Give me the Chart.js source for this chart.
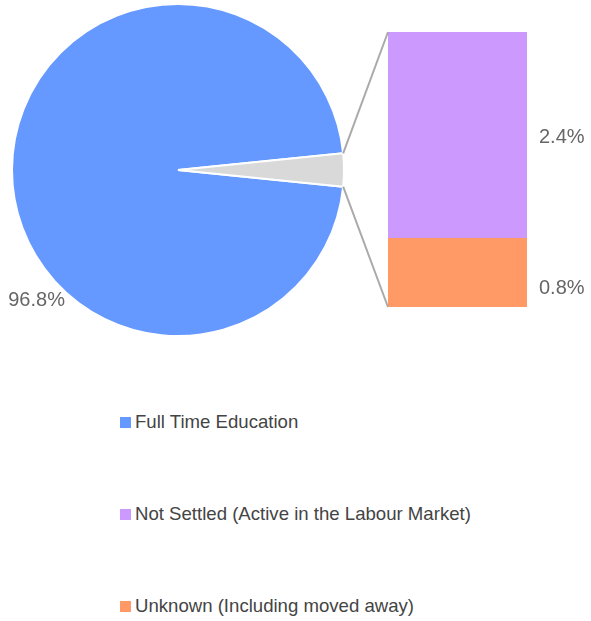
<!DOCTYPE html>
<html>
<head>
<meta charset="utf-8">
<script src="https://cdn.jsdelivr.net/npm/chart.js@4.4.1/dist/chart.umd.min.js"></script>
<style>
  html, body { margin: 0; padding: 0; background: #fff; }
  body { width: 591px; height: 621px; position: relative; overflow: hidden; font-family: "Liberation Sans", Arial, sans-serif; }
  #pieCanvas { position: absolute; left: 0; top: 0; }
  #barCanvas { position: absolute; left: 330px; top: 0; }
  #legend { position: absolute; left: 120px; top: 411px; }
  .lg-item { height: 92px; display: flex; align-items: flex-start; font-size: 18.6px; color: #444; line-height: 22px; }
  .lg-box { width: 11px; height: 11px; margin: 6px 4px 0 0; }
</style>
</head>
<body>
<canvas id="pieCanvas" width="356" height="340"></canvas>
<canvas id="barCanvas" width="261" height="340"></canvas>
<div id="legend"></div>
<script>
// Pie-of-bar: main pie plus breakdown of the small slice

const legendLabels = ['Full Time Education', 'Not Settled (Active in the Labour Market)', 'Unknown (Including moved away)'];
const legendColors = ['#6699ff', '#cc99ff', '#ff9966'];

// main pie: big slice + combined "other"
const pieLabels = ['Full Time Education', 'Other'];
const pieValues = [96.8, 3.2];
const pieColors = ['#6699ff', '#d9d9d9'];

// breakdown of "other" (bottom to top in stack)
const barLabels = ['Unknown (Including moved away)', 'Not Settled (Active in the Labour Market)'];
const barValues = [0.8, 2.4];
const barColors = ['#ff9966', '#cc99ff'];

const textFont = '20px "Liberation Sans", Arial, sans-serif';
const textColor = '#666';

// --- Legend ---
document.getElementById('legend').innerHTML = legendLabels.map((l, i) =>
  `<div class="lg-item"><span class="lg-box" style="background:${legendColors[i]}"></span>${l}</div>`
).join('');

// --- Pie ---
const pieTotal = pieValues.reduce((a, b) => a + b, 0);
const otherShare = pieValues[1] / pieTotal;

const pieLabelPlugin = {
  id: 'pieLabel',
  afterDraw(chart) {
    const arc = chart.getDatasetMeta(0).data[0];
    const a = 137 * Math.PI / 180;
    const r = arc.outerRadius + 26;
    const ctx = chart.ctx;
    ctx.save();
    ctx.font = textFont;
    ctx.fillStyle = textColor;
    ctx.textAlign = 'center';
    ctx.textBaseline = 'middle';
    ctx.fillText(pieValues[0].toFixed(1) + '%', arc.x + Math.cos(a) * r - 1, arc.y + Math.sin(a) * r);
    ctx.restore();
  }
};

const pieChart = new Chart(document.getElementById('pieCanvas'), {
  type: 'pie',
  data: {
    labels: pieLabels,
    datasets: [{
      data: pieValues,
      backgroundColor: pieColors,
      borderColor: '#fff',
      borderWidth: 2
    }]
  },
  options: {
    responsive: false,
    animation: false,
    rotation: 90 + otherShare * 180,
    layout: { padding: 3 },
    plugins: { legend: { display: false }, tooltip: { enabled: false } }
  },
  plugins: [pieLabelPlugin]
});

// --- Bar + connectors ---
const barExtras = {
  id: 'barExtras',
  afterDraw(chart) {
    const ctx = chart.ctx;
    const bottom = chart.getDatasetMeta(0).data[0];
    const top = chart.getDatasetMeta(1).data[0];
    const left = top.x - top.width / 2;
    const right = top.x + top.width / 2;

    // connector lines from the grey slice to the bar
    const slice = pieChart.getDatasetMeta(0).data[1];
    const dx = document.getElementById('pieCanvas').offsetLeft - chart.canvas.offsetLeft;
    const p1 = [slice.x + dx + Math.cos(slice.startAngle) * slice.outerRadius, slice.y + Math.sin(slice.startAngle) * slice.outerRadius];
    const p2 = [slice.x + dx + Math.cos(slice.endAngle) * slice.outerRadius, slice.y + Math.sin(slice.endAngle) * slice.outerRadius];
    ctx.save();
    ctx.strokeStyle = '#aaaaaa';
    ctx.lineWidth = 2;
    ctx.beginPath();
    ctx.moveTo(p1[0], p1[1]); ctx.lineTo(left, top.y);
    ctx.moveTo(p2[0], p2[1]); ctx.lineTo(left, bottom.base);
    ctx.stroke();

    // value labels
    ctx.font = textFont;
    ctx.fillStyle = textColor;
    ctx.textAlign = 'left';
    ctx.textBaseline = 'middle';
    const shift = [16, 2];
    chart.data.datasets.forEach((ds, i) => {
      const bar = chart.getDatasetMeta(i).data[0];
      ctx.fillText(ds.data[0].toFixed(1) + '%', right + 12, (bar.y + bar.base) / 2 + shift[i]);
    });
    ctx.restore();
  }
};

new Chart(document.getElementById('barCanvas'), {
  type: 'bar',
  data: {
    labels: [''],
    datasets: barValues.map((v, i) => ({
      label: barLabels[i],
      data: [v],
      backgroundColor: barColors[i],
      barPercentage: 1,
      categoryPercentage: 1
    }))
  },
  options: {
    responsive: false,
    animation: false,
    layout: { padding: { left: 58, right: 64, top: 32, bottom: 33 } },
    scales: {
      x: { stacked: true, display: false },
      y: { stacked: true, display: false, min: 0, max: barValues.reduce((a, b) => a + b, 0) }
    },
    plugins: { legend: { display: false }, tooltip: { enabled: false } }
  },
  plugins: [barExtras]
});
</script>
</body>
</html>
